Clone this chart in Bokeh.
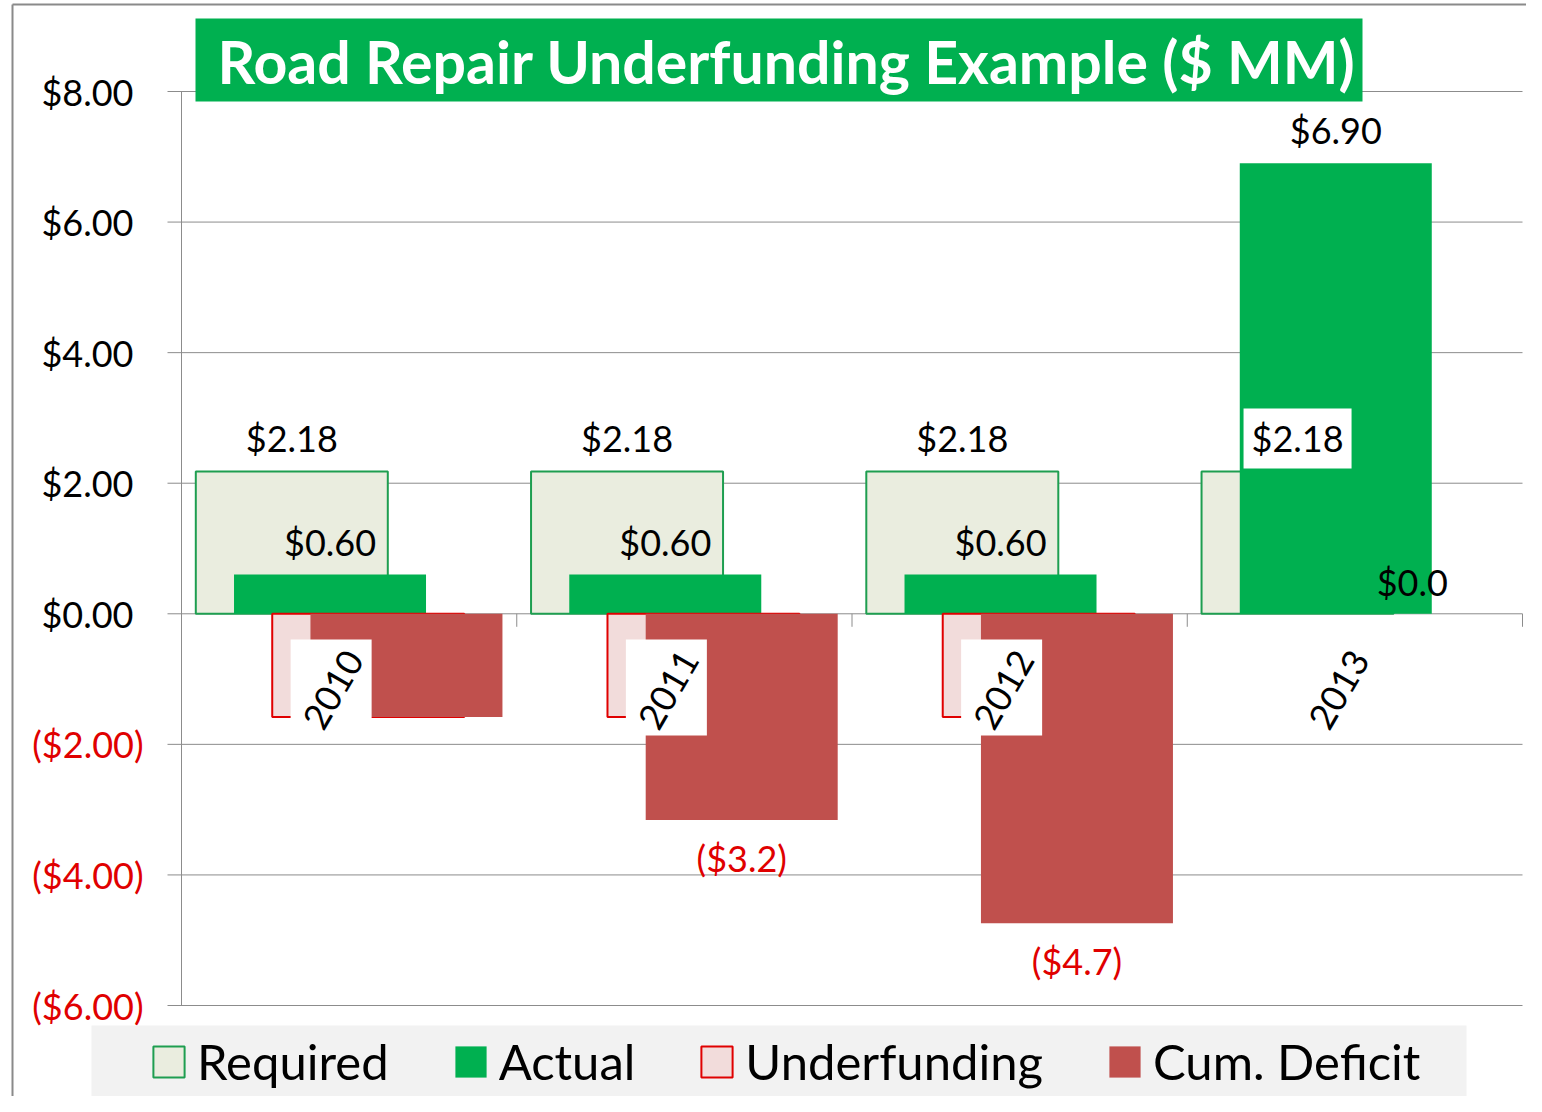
import numpy as np
from bokeh.plotting import figure
from bokeh.models import ColumnDataSource, Range1d, Legend, LegendItem
from bokeh.core.properties import value
from bokeh.embed import file_html
from bokeh.resources import INLINE

# ---------------- data ----------------
years = ["2010", "2011", "2012", "2013"]
required = [2.18, 2.18, 2.18, 2.18]
actual = [0.60, 0.60, 0.60, 6.90]
underfunding = [-1.58, -1.58, -1.58, 0.0]
cum_deficit = [-1.58, -3.16, -4.74, 0.0]
required_labels = ["$2.18", "$2.18", "$2.18", "$2.18"]
actual_labels = ["$0.60", "$0.60", "$0.60", "$6.90"]
cum_labels = ["", "($3.2)", "($4.7)", "$0.0"]
y_ticks = [8, 6, 4, 2, 0, -2, -4, -6]
y_tick_labels = ["$8.00", "$6.00", "$4.00", "$2.00", "$0.00", "($2.00)", "($4.00)", "($6.00)"]
series_names = ["Required", "Actual", "Underfunding", "Cum. Deficit"]
title_text = "Road Repair Underfunding Example ($ MM)"

# ---------------- layout (canvas pixels) ----------------
W, H = 1526, 1096
PL, PR = 181, 1522          # plot area left/right
PT, PB = 91, 1005           # y of top tick / bottom tick
ymax, ymin = 8, -6
ncat = len(years)
sx = (PR - PL) / ncat
sy = (PB - PT) / (ymax - ymin)
def dx(px):
    return -0.5 + (px - PL) / sx
def dy(py):
    return ymax - (py - PT) / sy

FONT = value("Lato")
GREEN = "#00B050"
RED_BAR = "#C0504D"
RED_TXT = "#E00000"
GRID = "#8C8C8C"

p = figure(width=W, height=H, x_range=Range1d(dx(0), dx(W)), y_range=Range1d(dy(H), dy(0)),
           output_backend="svg", toolbar_location=None, min_border=0,
           x_axis_location=None, y_axis_location=None)
p.grid.visible = False
p.outline_line_color = None
p.background_fill_color = "white"
p.border_fill_color = "white"

# chart-area border (top + left)
p.segment(x0=[dx(12), dx(12)], x1=[dx(W), dx(12)], y0=[dy(4), dy(4)], y1=[dy(4), dy(H)],
          line_color="#8A8A8A", line_width=2)

# gridlines + axes
p.segment(x0=dx(167), x1=dx(PR), y0=y_ticks, y1=y_ticks, line_color=GRID, line_width=1)
p.segment(x0=[-0.5], x1=[-0.5], y0=[ymin], y1=[ymax], line_color=GRID, line_width=1)
bounds = np.arange(ncat) + 0.5
p.segment(x0=bounds, x1=bounds, y0=0, y1=-13 / sy, line_color=GRID, line_width=1)

# bars
idx = np.arange(ncat)
offsets = [-0.171, -0.057, 0.057, 0.171]
bw = 192 / sx
r_req = p.vbar(x=idx + offsets[0], top=required, bottom=0, width=bw,
               fill_color="#EAEDDF", line_color="#1E9E50", line_width=2)
r_act = p.vbar(x=idx + offsets[1], top=actual, bottom=0, width=bw,
               fill_color=GREEN, line_color=None)
und_src = ColumnDataSource(dict(x=idx + offsets[2], bottom=underfunding,
                                lc=["#E00000" if v < 0 else None for v in underfunding]))
r_und = p.vbar(x="x", top=0, bottom="bottom", width=bw, source=und_src,
               fill_color="#F2DCDB", line_color="lc", line_width=2)
r_cum = p.vbar(x=idx + offsets[3], top=0, bottom=cum_deficit, width=bw,
               fill_color=RED_BAR, line_color=None)

# category labels with white boxes
p.rect(x=idx - 18 / sx, y=dy(687), width=81, height=96, width_units="screen",
       height_units="screen", fill_color="white", line_color=None)
p.text(x=idx - 16 / sx, y=dy(689), text=years, angle=np.pi / 3, text_align="center",
       text_baseline="middle", text_font=FONT, text_font_size="36px", text_color="black")

# data labels
p.text(x=idx + offsets[0], y=required, y_offset=-33, text=required_labels,
       text_align="center", text_baseline="middle", text_font=FONT, text_font_size="36px",
       text_color="black", background_fill_color="white", padding=8)
p.text(x=idx + offsets[1], y=actual, y_offset=-33, text=actual_labels,
       text_align="center", text_baseline="middle", text_font=FONT, text_font_size="36px",
       text_color="black")
cum_src = ColumnDataSource(dict(
    x=idx + offsets[3], y=cum_deficit, text=cum_labels,
    yoff=[38 if v < 0 else -32 for v in cum_deficit],
    color=[RED_TXT if v < 0 else "black" for v in cum_deficit]))
p.text(x="x", y="y", y_offset="yoff", text="text", text_color="color", source=cum_src,
       text_align="center", text_baseline="middle", text_font=FONT, text_font_size="36px")

# y tick labels
tick_src = ColumnDataSource(dict(
    y=y_ticks, text=y_tick_labels,
    xoff=[-48 if v >= 0 else -38 for v in y_ticks],
    color=["black" if v >= 0 else RED_TXT for v in y_ticks]))
p.text(x=-0.5, y="y", x_offset="xoff", text="text", text_color="color", source=tick_src,
       text_align="right", text_baseline="middle", text_font=FONT, text_font_size="36px")

# title
p.quad(left=[dx(195)], right=[dx(1362)], top=[dy(18)], bottom=[dy(101)],
       fill_color=GREEN, line_color=None)
p.text(x=[dx(217)], y=[dy(61)], text=[title_text], text_align="left", text_baseline="middle",
       text_font=FONT, text_font_style="bold", text_font_size="59px", text_color="white")

# legend background + legend
p.quad(left=[dx(91)], right=[dx(1466)], top=[dy(1025)], bottom=[dy(1096)],
       fill_color="#F2F2F2", line_color=None)
legend = Legend(items=[LegendItem(label=n, renderers=[r]) for n, r in
                       zip(series_names, [r_req, r_act, r_und, r_cum])],
                orientation="horizontal", location=(149, 6),
                background_fill_alpha=0, border_line_color=None, padding=0, margin=0,
                spacing=62, label_standoff=9, glyph_width=39, glyph_height=39,
                label_text_font="Lato", label_text_font_size="49px", label_height=39,
                label_text_color="black")
p.add_layout(legend)

open("out.html", "w").write(file_html(p, INLINE))
